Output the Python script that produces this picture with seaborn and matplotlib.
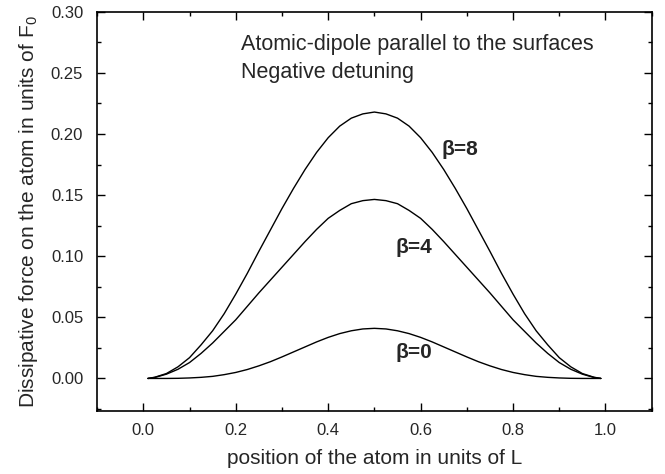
import matplotlib
matplotlib.use("Agg")
import matplotlib.pyplot as plt
import seaborn as sns
import pandas as pd
from matplotlib.ticker import MultipleLocator, FormatStrFormatter

# position of the atom (units of L)
x_pos = [0.010, 0.025, 0.050, 0.075, 0.100, 0.125, 0.150, 0.175, 0.200, 0.225, 0.250,
         0.275, 0.300, 0.325, 0.350, 0.375, 0.400, 0.425, 0.450, 0.475, 0.500,
         0.525, 0.550, 0.575, 0.600, 0.625, 0.650, 0.675, 0.700, 0.725, 0.750,
         0.775, 0.800, 0.825, 0.850, 0.875, 0.900, 0.925, 0.950, 0.975, 0.990]
# dissipative force (units of F0)
force_b0 = [0.0, 0.0000, 0.0000, 0.0001, 0.0004, 0.0009, 0.0017, 0.0031, 0.0049, 0.0073, 0.0103,
            0.0137, 0.0176, 0.0217, 0.0258, 0.0299, 0.0336, 0.0367, 0.0390, 0.0405, 0.0410,
            0.0405, 0.0390, 0.0367, 0.0336, 0.0299, 0.0258, 0.0217, 0.0176, 0.0137, 0.0103,
            0.0073, 0.0049, 0.0031, 0.0017, 0.0009, 0.0004, 0.0001, 0.0000, 0.0000, 0.0]
force_b4 = [0.0, 0.0008, 0.0035, 0.0075, 0.0130, 0.0205, 0.0290, 0.0385, 0.0480, 0.0590, 0.0700,
            0.0805, 0.0910, 0.1015, 0.1120, 0.1220, 0.1310, 0.1375, 0.1430, 0.1455, 0.1465,
            0.1455, 0.1430, 0.1375, 0.1310, 0.1220, 0.1120, 0.1015, 0.0910, 0.0805, 0.0700,
            0.0590, 0.0480, 0.0385, 0.0290, 0.0205, 0.0130, 0.0075, 0.0035, 0.0008, 0.0]
force_b8 = [0.0, 0.0010, 0.0040, 0.0095, 0.0170, 0.0275, 0.0390, 0.0530, 0.0690, 0.0860, 0.1040,
            0.1215, 0.1390, 0.1555, 0.1710, 0.1850, 0.1970, 0.2065, 0.2130, 0.2165, 0.2180,
            0.2165, 0.2130, 0.2065, 0.1970, 0.1850, 0.1710, 0.1555, 0.1390, 0.1215, 0.1040,
            0.0860, 0.0690, 0.0530, 0.0390, 0.0275, 0.0170, 0.0095, 0.0040, 0.0010, 0.0]
series_names = ["β=0", "β=4", "β=8"]
label_x = [0.545, 0.545, 0.645]
label_y = [0.021, 0.107, 0.187]

sns.set_theme(style="ticks")
plt.rcParams["font.family"] = ["Liberation Sans", "DejaVu Sans"]
plt.rcParams["mathtext.fontset"] = "custom"
plt.rcParams["mathtext.rm"] = "Liberation Sans"
plt.rcParams["mathtext.it"] = "Liberation Sans"
plt.rcParams["mathtext.bf"] = "Liberation Sans:bold"

frames = []
for name, vals in zip(series_names, [force_b0, force_b4, force_b8]):
    frames.append(pd.DataFrame({"x": x_pos, "F": vals, "beta": name}))
df = pd.concat(frames, ignore_index=True)

fig = plt.figure(figsize=(6.65, 4.74), dpi=100)
ax = fig.add_axes([0.146, 0.132, 0.834, 0.843])
sns.lineplot(data=df, x="x", y="F", hue="beta", palette=["black"] * 3,
             linewidth=1.0, legend=False, ax=ax, sort=False, estimator=None)

ax.set_xlim(-0.1, 1.1)
ax.set_ylim(-0.027, 0.30)
ax.xaxis.set_major_locator(MultipleLocator(0.2))
ax.xaxis.set_minor_locator(MultipleLocator(0.1))
ax.yaxis.set_major_locator(MultipleLocator(0.05))
ax.yaxis.set_minor_locator(MultipleLocator(0.025))
ax.xaxis.set_major_formatter(FormatStrFormatter("%.1f"))
ax.yaxis.set_major_formatter(FormatStrFormatter("%.2f"))
ax.tick_params(which="both", direction="in", top=True, right=True, color="black", width=1.0)
ax.tick_params(which="major", length=5.5, labelsize=12)
ax.tick_params(which="minor", length=3)
ax.tick_params(axis="x", which="major", pad=8)
ax.tick_params(axis="y", which="major", pad=10)
for s in ax.spines.values():
    s.set_linewidth(1.2)
    s.set_color("black")
    s.set_visible(True)

ax.set_xlabel("position of the atom in units of L", fontsize=15, labelpad=8)
ax.set_ylabel("Dissipative force on the atom in units of F$_0$", fontsize=15, labelpad=8)

ax.text(0.212, 0.273, "Atomic-dipole parallel to the surfaces", fontsize=15.5, va="center", ha="left")
ax.text(0.212, 0.250, "Negative detuning", fontsize=15.5, va="center", ha="left")
for name, lx, ly in zip(series_names, label_x, label_y):
    ax.text(lx, ly, name, fontsize=15, fontweight="bold", va="center", ha="left")

fig.savefig("out.png", dpi=100)
